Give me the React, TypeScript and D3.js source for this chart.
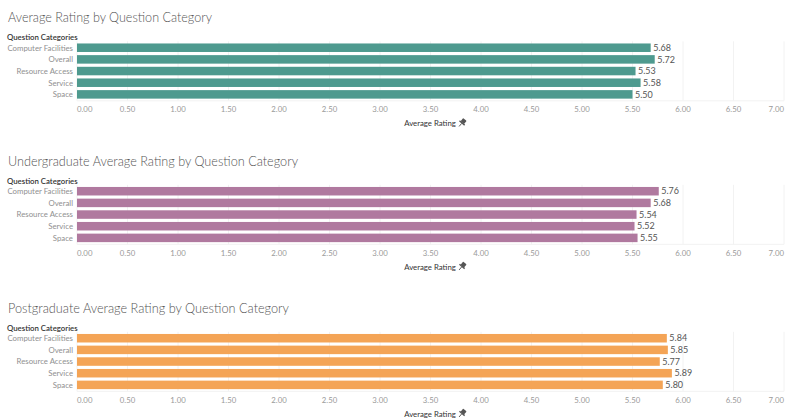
import React from "react";
import * as d3 from "d3";

const categories = ["Computer Facilities", "Overall", "Resource Access", "Service", "Space"];
const overallValues = [5.68, 5.72, 5.53, 5.58, 5.5];
const undergradValues = [5.76, 5.68, 5.54, 5.52, 5.55];
const postgradValues = [5.84, 5.85, 5.77, 5.89, 5.8];
const xTicks = [0, 0.5, 1, 1.5, 2, 2.5, 3, 3.5, 4, 4.5, 5, 5.5, 6, 6.5, 7];

const panels = [
  { title: "Average Rating by Question Category", values: overallValues, color: "#4e9a8f", top: 0, titleWidth: 204 },
  { title: "Undergraduate Average Rating by Question Category", values: undergradValues, color: "#b0799f", top: 143.5, titleWidth: 290 },
  { title: "Postgraduate Average Rating by Question Category", values: postgradValues, color: "#f4a456", top: 290.5, titleWidth: 281 },
];

const FONT = "Lato, 'Open Sans', sans-serif";
const width = 800;
const height = 418;

const x = d3.scaleLinear().domain([0, 7]).range([77, 784]);
const y = d3.scaleBand<string>().domain(categories).range([42.3, 99.8]).paddingInner(0.27).paddingOuter(0.1);

const Pin = ({ cx, cy }: { cx: number; cy: number }) => (
  <g transform={`translate(${cx},${cy}) rotate(40)`} fill="#555">
    <rect x={-2.2} y={-4.5} width={4.4} height={4} rx={0.6} />
    <rect x={-3.4} y={-0.8} width={6.8} height={1.4} />
    <line x1={0} y1={0.5} x2={0} y2={4.5} stroke="#555" strokeWidth={0.9} />
  </g>
);

const Panel = ({
  title,
  values,
  color,
  top,
  titleWidth,
}: {
  title: string;
  values: number[];
  color: string;
  top: number;
  titleWidth: number;
}) => {
  const [y0, y1] = y.range();
  return (
    <g transform={`translate(0,${top})`}>
      <text
        x={8}
        y={22}
        fontSize={14.5}
        fontWeight={300}
        fill="#555"
        fontFamily={FONT}
        textLength={titleWidth}
        lengthAdjust="spacingAndGlyphs"
      >
        {title}
      </text>
      <text x={7} y={40} fontSize={7.8} fontWeight={600} fill="#333" fontFamily={FONT}>
        Question Categories
      </text>
      {xTicks.map((t) => (
        <line key={t} x1={x(t)} x2={x(t)} y1={y0 - 1} y2={y1 + 1} stroke="#f2f2f2" strokeWidth={1} />
      ))}
      <line x1={x(0)} x2={x(7)} y1={y1 + 1} y2={y1 + 1} stroke="#f2f2f2" />
      {categories.map((c, i) => (
        <g key={c}>
          <text
            x={73}
            y={(y(c) ?? 0) + y.bandwidth() / 2 + 2.8}
            textAnchor="end"
            fontSize={7.8}
            fill="#909090"
            fontFamily={FONT}
          >
            {c}
          </text>
          <rect x={x(0)} y={y(c)} width={x(values[i]) - x(0)} height={y.bandwidth()} fill={color} />
          <text
            x={x(values[i]) + 2.5}
            y={(y(c) ?? 0) + y.bandwidth() / 2 + 3.2}
            fontSize={9}
            fill="#555"
            fontFamily={FONT}
          >
            {values[i].toFixed(2)}
          </text>
        </g>
      ))}
      {xTicks.map((t, i) => (
        <text
          key={t}
          x={x(t)}
          y={112}
          textAnchor={i === 0 ? "start" : i === xTicks.length - 1 ? "end" : "middle"}
          fontSize={7.8}
          fill="#9a9a9a"
          fontFamily={FONT}
        >
          {t.toFixed(2)}
        </text>
      ))}
      <text x={430} y={126} textAnchor="middle" fontSize={7.8} fill="#333" fontFamily={FONT}>
        Average Rating
      </text>
      <Pin cx={462} cy={123} />
    </g>
  );
};

export default function App() {
  return (
    <svg
      width={width}
      height={height}
      style={{ position: "absolute", left: 0, top: 0, background: "#fff" }}
    >
      {panels.map((p) => (
        <Panel key={p.title} {...p} />
      ))}
    </svg>
  );
}
